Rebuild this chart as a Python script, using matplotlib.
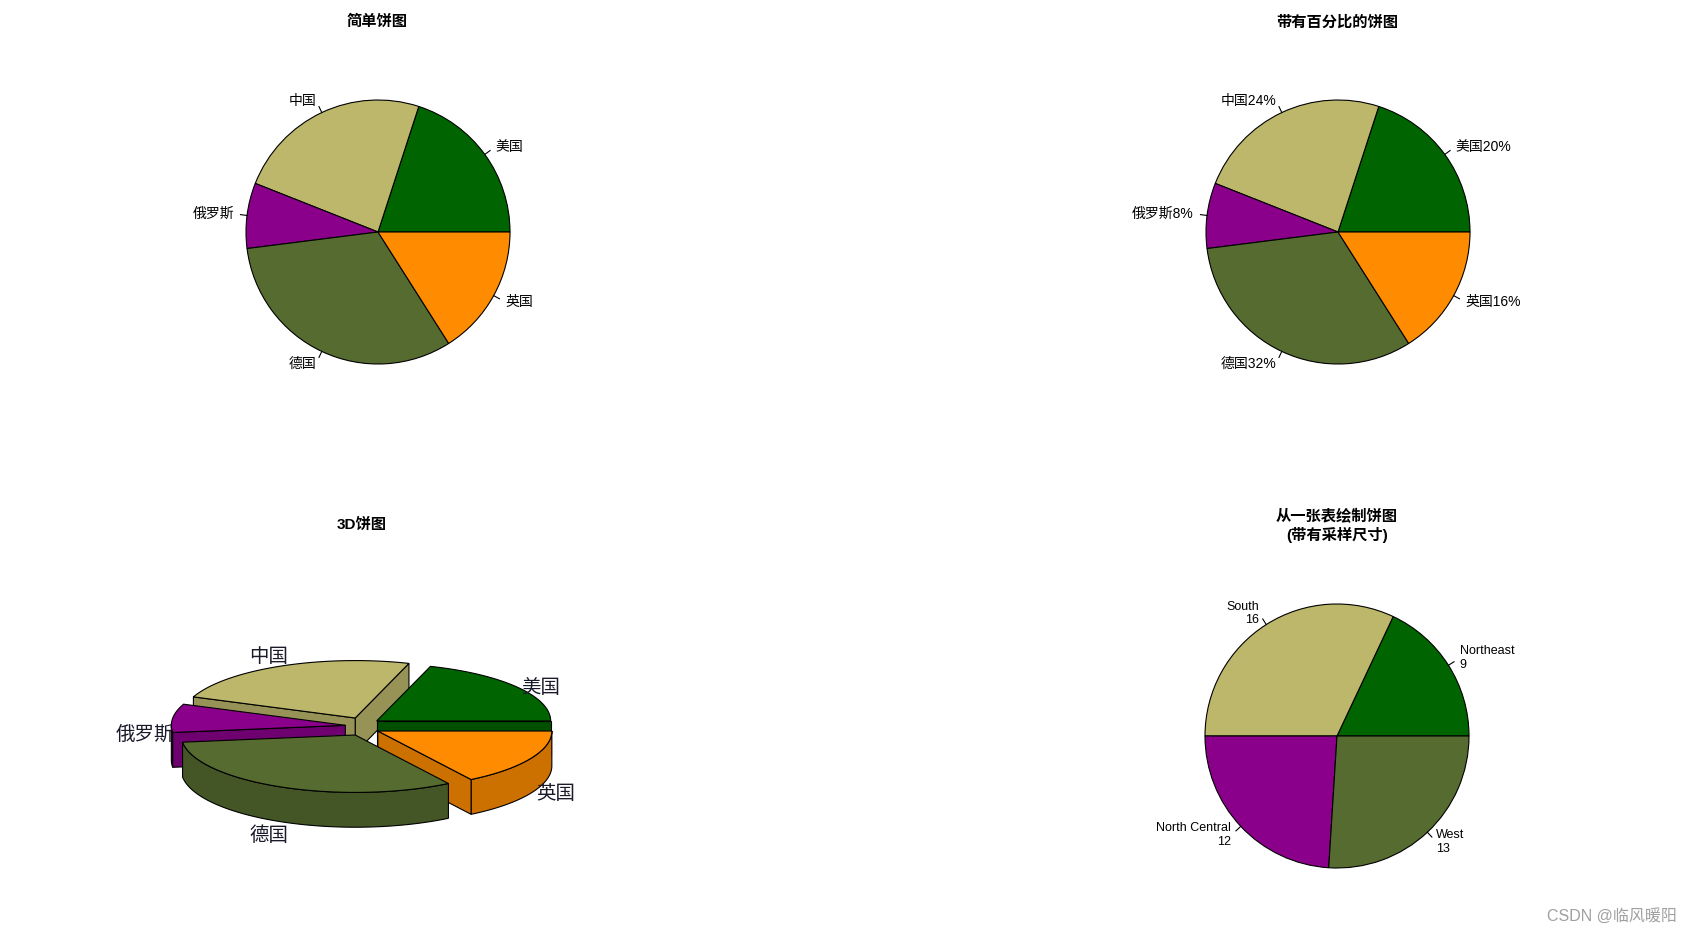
import numpy as np
import matplotlib
matplotlib.use('Agg')
import matplotlib.pyplot as plt
from matplotlib.patches import Polygon
from matplotlib.colors import to_rgb

plt.rcParams['font.family'] = ['Liberation Sans', 'Noto Sans CJK SC', 'DejaVu Sans']

# ---------------------------------------------------------------------------
# Data
# ---------------------------------------------------------------------------
countries = ['美国', '中国', '俄罗斯', '德国', '英国']
slices = [10, 12, 4, 16, 8]
pie_colors = ['darkgreen', 'darkkhaki', 'darkmagenta', 'darkolivegreen', 'darkorange']

regions = ['Northeast', 'South', 'North Central', 'West']
region_counts = [9, 16, 12, 13]

titles = ['简单饼图', '带有百分比的饼图', '3D饼图', '从一张表绘制饼图\n(带有采样尺寸)']

# ---------------------------------------------------------------------------
# Figure helpers (pixel based layout, like R's par(mfrow=c(2,2)))
# ---------------------------------------------------------------------------
W, H = 1692, 935
fig = plt.figure(figsize=(W / 100, H / 100), dpi=100)


def px_axes(cx, cy, half_w, half_h):
    ax = fig.add_axes([(cx - half_w) / W, (H - cy - half_h) / H,
                       2 * half_w / W, 2 * half_h / H])
    ax.axis('off')
    return ax


def r_pie(ax, values, labels, cols, fs=10):
    """Pie drawn the way base R does it: counter-clockwise from 3 o'clock."""
    ax.pie(values, labels=labels, colors=cols, startangle=0, counterclock=True,
           labeldistance=1.1, radius=1,
           wedgeprops=dict(edgecolor='black', linewidth=0.8),
           textprops=dict(fontsize=fs))
    ang = np.cumsum([0] + list(values)) / sum(values) * 2 * np.pi
    mid = (ang[:-1] + ang[1:]) / 2
    for m in mid:
        ax.plot([np.cos(m), 1.05 * np.cos(m)], [np.sin(m), 1.05 * np.sin(m)],
                color='black', lw=0.8)
    ax.set_xlim(-1.5, 1.5)
    ax.set_ylim(-1.5, 1.5)


def title_px(x, y, s):
    fig.text(x / W, 1 - y / H, s, ha='center', va='center', fontsize=11,
             fontweight='bold', linespacing=1.25)


R2D = 132  # pie radius in px

# 1. simple pie
ax1 = px_axes(378, 232, 1.5 * R2D, 1.5 * R2D)
r_pie(ax1, slices, countries, pie_colors)
title_px(377, 22, titles[0])

# 2. pie with percentages
pct = [round(v / sum(slices) * 100) for v in slices]
pct_labels = [f'{c}{p}%' for c, p in zip(countries, pct)]
ax2 = px_axes(1338, 232, 1.5 * R2D, 1.5 * R2D)
r_pie(ax2, slices, pct_labels, pie_colors)
title_px(1337, 22, titles[1])

# 4. pie from a table
reg_labels = [f'{r}\n{n}' for r, n in zip(regions, region_counts)]
ax4 = px_axes(1337, 736, 1.5 * R2D, 1.5 * R2D)
r_pie(ax4, region_counts, reg_labels, pie_colors[:4], fs=9)
title_px(1337, 526, titles[3])

# 3. 3D exploded pie (plotrix::pie3D look)
R3 = 174
ax3 = px_axes(362.6, 726.5, 1.6 * R3, 1.0 * R3)
ax3.set_xlim(-1.6, 1.6)
ax3.set_ylim(-1.0, 1.0)
ry, h = 0.33, 0.2        # tilt squash and thickness
ex, ey = 0.1, 0.054      # explode offsets
ang = np.cumsum([0] + slices) / sum(slices) * 2 * np.pi
order = sorted(range(len(slices)), key=lambda i: -np.sin((ang[i] + ang[i + 1]) / 2))
z = 1
for i in order:
    a1, a2 = ang[i], ang[i + 1]
    m = (a1 + a2) / 2
    ox, oy = ex * np.cos(m), ey * np.sin(m)
    base = to_rgb(pie_colors[i])
    dark = tuple(np.array(base) * 0.8)

    def rim(t):
        return ox + np.cos(t), oy + ry * np.sin(t)

    # outer curved side (front half only)
    lo, hi = max(a1, np.pi), min(a2, 2 * np.pi)
    if hi > lo:
        t = np.linspace(lo, hi, 120)
        xs, ys = rim(t)
        pts = np.column_stack([np.r_[xs, xs[::-1]], np.r_[ys, ys[::-1] - h]])
        ax3.add_patch(Polygon(pts, closed=True, fc=dark, ec='black', lw=0.8, zorder=z))
        z += 1
    # radial faces facing the viewer
    for a, vis in ((a1, np.cos(a1) > 1e-9), (a2, np.cos(a2) < -1e-9)):
        if vis:
            px, py = rim(a)
            pts = [(ox, oy), (px, py), (px, py - h), (ox, oy - h)]
            ax3.add_patch(Polygon(pts, closed=True, fc=dark, ec='black', lw=0.8, zorder=z))
            z += 1
    # top face
    t = np.linspace(a1, a2, 200)
    xs, ys = rim(t)
    pts = np.column_stack([np.r_[ox, xs], np.r_[oy, ys]])
    ax3.add_patch(Polygon(pts, closed=True, fc=base, ec='black', lw=0.8, zorder=z))
    z += 1

for i, lab in enumerate(countries):
    m = (ang[i] + ang[i + 1]) / 2
    ax3.text(1.264 * np.cos(m), 0.569 * np.sin(m) - 0.115, lab, ha='center', va='center',
             fontsize=14, color='#1a1a2a', zorder=50)
title_px(362, 525, titles[2])

# watermark
fig.text(1677 / W, 1 - 916 / H, 'CSDN @临风暖阳', ha='right', va='center',
         fontsize=11.5, color='#a0a0a0')

fig.savefig('out.png', dpi=100, facecolor='white')
